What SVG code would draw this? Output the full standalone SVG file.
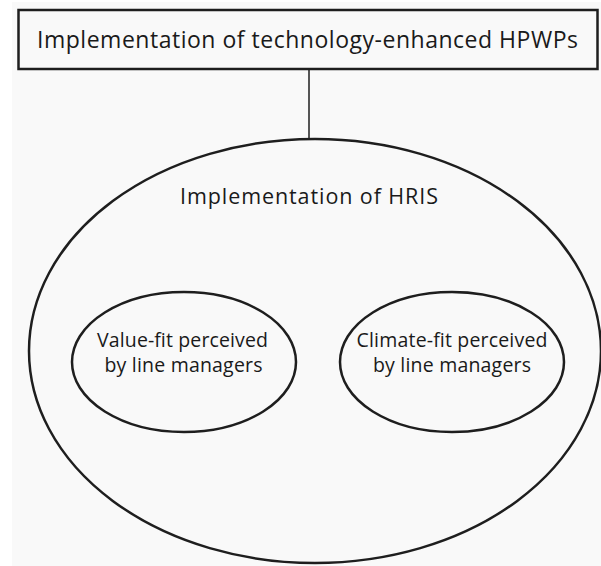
<svg xmlns="http://www.w3.org/2000/svg" width="601" height="566" viewBox="0 0 601 566">
  <style>
    .shape { fill: none; stroke: #1e1e1e; stroke-width: 2.5; }
    .link { stroke: #1e1e1e; stroke-width: 1.5; fill: none; }
    .label { font-family: "Open Sans", "Liberation Sans", sans-serif; fill: #1a1a1a; text-anchor: middle; }
    .inner { font-size: 19.5px; }
  </style>
  <rect x="0" y="0" width="601" height="566" fill="#ffffff"/>
  <rect x="12" y="2" width="589" height="564" fill="#f9f9f9"/>

  <g id="connectors">
    <line class="link" x1="309" y1="69" x2="309" y2="139"/>
  </g>

  <g id="node-hpwps">
    <rect class="shape" x="18.5" y="10" width="579" height="59" fill="#f9f9f9"/>
    <text class="label" x="307.5" y="48" font-size="23" textLength="541" lengthAdjust="spacing">Implementation of technology-enhanced HPWPs</text>
  </g>

  <g id="node-hris">
    <ellipse class="shape" cx="315" cy="351" rx="286" ry="212"/>
    <text class="label" x="309" y="204" font-size="21.5" textLength="258" lengthAdjust="spacing">Implementation of HRIS</text>
  </g>

  <g id="node-value-fit">
    <ellipse class="shape" cx="184" cy="362" rx="112" ry="70"/>
    <text class="label inner" x="182.5" y="347" textLength="171" lengthAdjust="spacing">Value-fit perceived</text>
    <text class="label inner" x="183.5" y="372" textLength="158" lengthAdjust="spacing">by line managers</text>
  </g>

  <g id="node-climate-fit">
    <ellipse class="shape" cx="452" cy="362" rx="112" ry="70"/>
    <text class="label inner" x="452" y="347" textLength="191" lengthAdjust="spacing">Climate-fit perceived</text>
    <text class="label inner" x="452" y="372" textLength="158" lengthAdjust="spacing">by line managers</text>
  </g>
</svg>
